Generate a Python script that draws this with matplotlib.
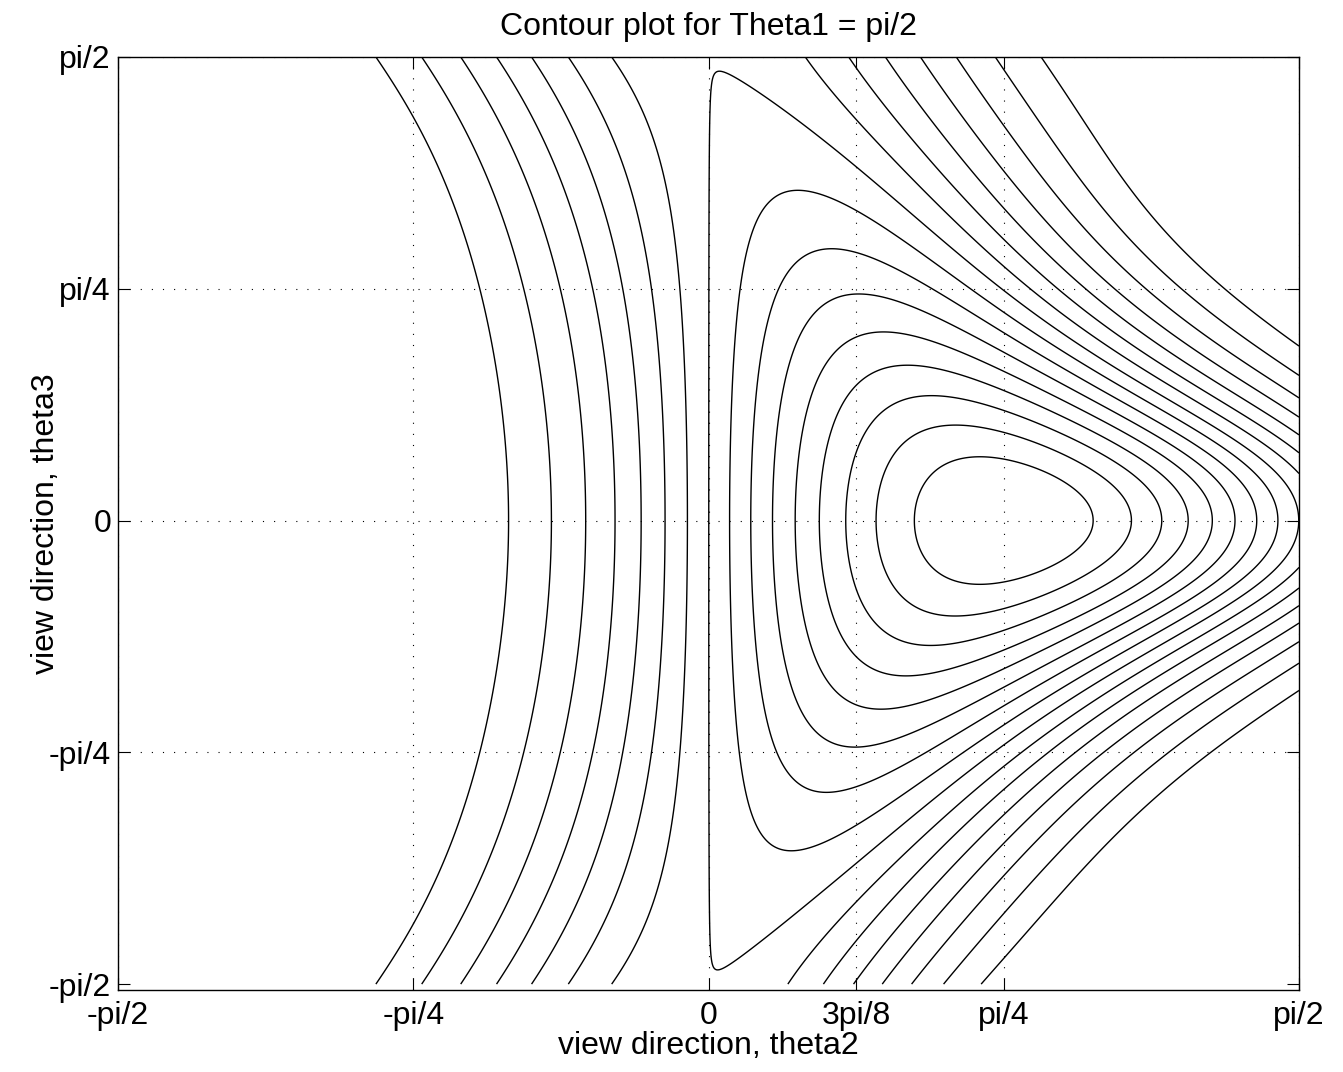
import numpy as np
import matplotlib
matplotlib.use("Agg")
import matplotlib.pyplot as plt

# contour levels (16 lines, evenly spaced)
LEVELS = [0.0555, 0.111, 0.1665, 0.222, 0.2775, 0.333, 0.3885, 0.444, 0.4993,
          0.555, 0.6105, 0.666, 0.7215, 0.777, 0.8325, 0.888]

XTICKS = [-np.pi / 2, -np.pi / 4, 0, np.pi / 8, np.pi / 4, np.pi / 2]
XTICK_LABELS = ["-pi/2", "-pi/4", "0", "3pi/8", "pi/4", "pi/2"]
YTICKS = [-np.pi / 2, -np.pi / 4, 0, np.pi / 4, np.pi / 2]
YTICK_LABELS = ["-pi/2", "-pi/4", "0", "pi/4", "pi/2"]

# shape of the field: minimum at (pi/4, 0); stretch factors fitted to the picture
MIN_T2 = np.pi / 4
LAM0, LAM_GROW = 2.515, 0.55
MU0, MU_GROW = 0.503, 0.92
LEFT_BEND = 0.31
BR_WARP, BR_POW = 0.22, 3


def field(t2, t3):
    # lower-right lines lean further left than the upper ones
    w = BR_WARP * np.clip(-t3 / (np.pi / 2), 0, None) ** BR_POW
    t2 = np.where(t2 > 0, t2 * (1 + w), t2)
    vx = np.cos(t2)
    vy = np.sin(t2) * np.cos(t3)
    q = np.sin(t2) * np.sin(t3)
    p = (vy - vx) / np.sqrt(2)
    r = (vx + vy) / np.sqrt(2)
    rho = np.hypot(p, r)
    psi = np.arctan2(p, r)
    d = np.clip(-psi - MIN_T2, 0, None)
    psi = np.where(d > 0, -MIN_T2 - (d - LEFT_BEND * d ** 2), psi)
    p = rho * np.sin(psi)
    r = rho * np.cos(psi)
    lam = LAM0 * np.exp(LAM_GROW * psi)
    mu = MU0 * np.exp(MU_GROW * psi)
    qr = np.abs(q) / np.maximum(np.abs(r), 1e-9)
    num = p ** 2 + lam * q ** 2 * (1 + mu * qr)
    theta = np.arctan2(np.sqrt(num), r)
    return np.sin(np.minimum(theta, np.pi / 2)) ** 2


t2 = np.linspace(-np.pi / 2, np.pi / 2, 1001)
t3 = np.linspace(-np.pi / 2, np.pi / 2, 1001)
T2, T3 = np.meshgrid(t2, t3)
Z = field(T2, T3)

plt.rcParams["font.family"] = ["Liberation Sans", "DejaVu Sans"]
fig = plt.figure(figsize=(13.43, 10.72), dpi=100, facecolor="white")
ax = fig.add_axes([118 / 1343, 82 / 1072, 1181 / 1343, 933 / 1072])

ax.contour(T2, T3, Z, levels=LEVELS, colors="black", linewidths=1.0)

ax.set_xlim(-np.pi / 2, np.pi / 2)
ax.set_ylim(-np.pi / 2 - 0.02, np.pi / 2)
ax.set_xticks(XTICKS)
ax.set_xticklabels(XTICK_LABELS)
ax.set_yticks(YTICKS)
ax.set_yticklabels(YTICK_LABELS)
ax.tick_params(direction="in", length=8.5, width=0.8, labelsize=23, top=True, right=True)
ax.tick_params(axis="x", pad=8)
ax.tick_params(axis="y", pad=5)
ax.grid(True, color="black", linestyle=(0, (1, 9)), linewidth=0.8)
ax.yaxis.get_gridlines()[0].set_visible(False)
for s in ax.spines.values():
    s.set_linewidth(1.0)

ax.set_xlabel("view direction, theta2", fontsize=23, labelpad=0)
ax.set_ylabel("view direction, theta3", fontsize=23)
ax.yaxis.set_label_coords(-0.048, 0.5)
ax.set_title("Contour plot for Theta1 = pi/2", fontsize=23, pad=16)

fig.savefig("out.png", dpi=100, facecolor="white")
